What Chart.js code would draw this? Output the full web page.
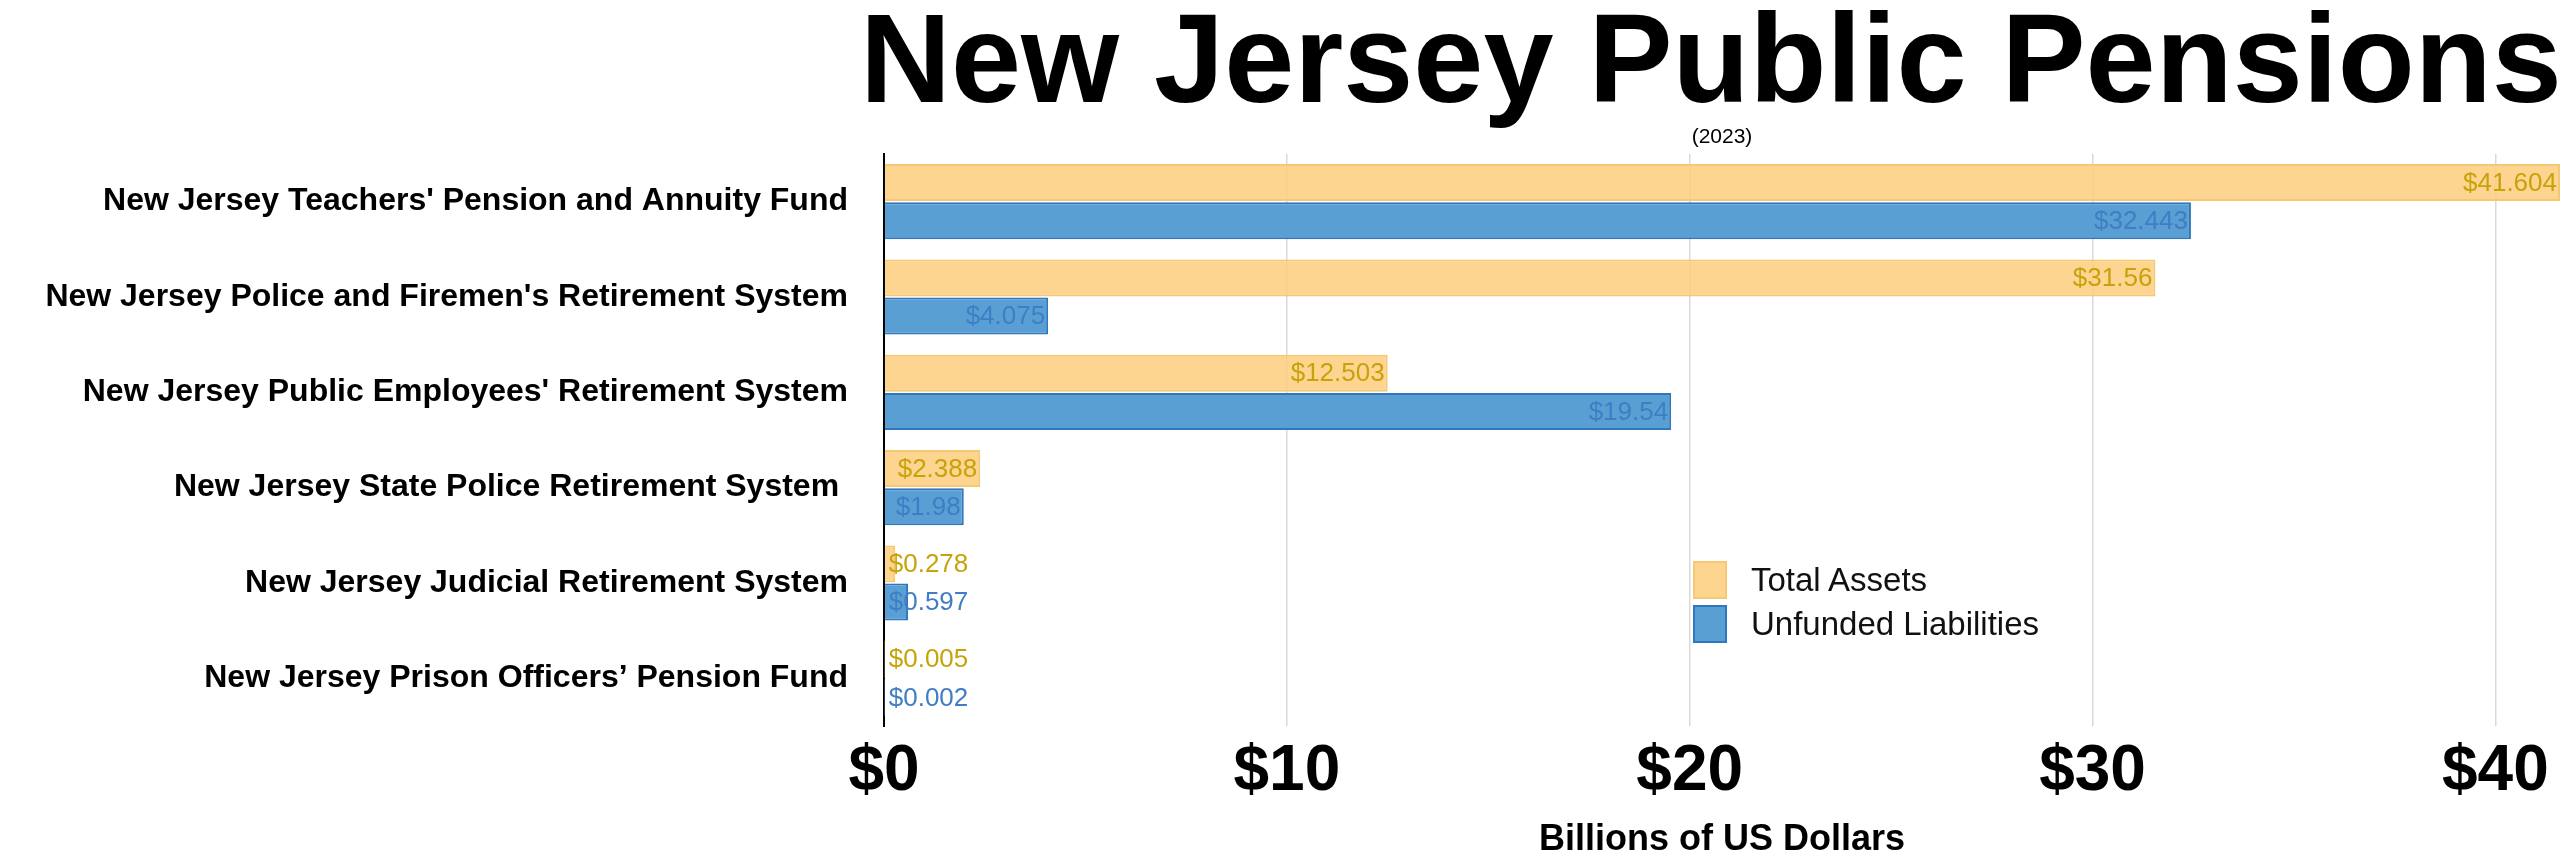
<!DOCTYPE html>
<html>
<head>
<meta charset="utf-8">
<script src="https://cdn.jsdelivr.net/npm/chart.js@4"></script>
<style>
  html, body { margin: 0; padding: 0; background: #fff; }
  #wrap { position: relative; width: 2560px; height: 850px; font-family: "Liberation Sans", Arial, sans-serif; }
  #title { position: absolute; left: 860px; width: 1700px; top: -14px; text-align: center; font-size: 126px; font-weight: bold; color: #000; white-space: nowrap; }
  #sub { position: absolute; left: 884px; width: 1676px; top: 124px; text-align: center; font-size: 21px; color: #000; }
  #legend { position: absolute; left: 1693px; top: 558px; font-size: 33px; color: #111; }
  #legend div { display: flex; align-items: center; height: 44px; }
  #legend span.box { display: inline-block; width: 34px; height: 38px; margin-right: 24px; box-sizing: border-box; }
</style>
</head>
<body>
<div id="wrap">
  <canvas id="chart" width="2560" height="850"></canvas>
  <div id="title">New Jersey Public Pensions</div>
  <div id="sub">(2023)</div>
  <div id="legend">
    <div><span class="box" style="background:#fdd58e;border:2px solid #f7c873"></span>Total Assets</div>
    <div><span class="box" style="background:#5a9fd4;border:2px solid #2f78bd"></span>Unfunded Liabilities</div>
  </div>
</div>
<script>
// Pension funds, billions of US dollars (2023)
const funds = [
  "New Jersey Teachers' Pension and Annuity Fund",
  "New Jersey Police and Firemen's Retirement System",
  "New Jersey Public Employees' Retirement System",
  "New Jersey State Police Retirement System ",
  "New Jersey Judicial Retirement System",
  "New Jersey Prison Officers’ Pension Fund"
];
const totalAssets = [41.604, 31.56, 12.503, 2.388, 0.278, 0.005];
const unfundedLiabilities = [32.443, 4.075, 19.54, 1.98, 0.597, 0.002];
const xTicks = [0, 10, 20, 30, 40];

const labelColors = ['#c7a30a', '#3f7ec4'];

// value labels at the end of each bar
const valueLabels = {
  id: 'valueLabels',
  afterDatasetsDraw(chart) {
    const ctx = chart.ctx;
    ctx.save();
    ctx.font = '26px "Liberation Sans", Arial, sans-serif';
    ctx.textBaseline = 'middle';
    chart.data.datasets.forEach((ds, i) => {
      chart.getDatasetMeta(i).data.forEach((bar, j) => {
        const txt = '$' + ds.data[j];
        const w = ctx.measureText(txt).width;
        ctx.fillStyle = labelColors[i];
        if (bar.x - bar.base > w + 8) {
          ctx.textAlign = 'right';
          ctx.fillText(txt, Math.min(bar.x, chart.chartArea.right) - 3, bar.y + 1);
        } else {
          ctx.textAlign = 'left';
          ctx.fillText(txt, bar.base + 4, bar.y + 1);
        }
      });
    });
    ctx.restore();
  }
};

new Chart(document.getElementById('chart'), {
  type: 'bar',
  data: {
    labels: funds,
    datasets: [
      { label: 'Total Assets', data: totalAssets, backgroundColor: 'rgba(253,205,125,0.85)', borderColor: '#f7c873', borderWidth: 2 },
      { label: 'Unfunded Liabilities', data: unfundedLiabilities, backgroundColor: '#5a9fd4', borderColor: '#2f78bd', borderWidth: 2 }
    ]
  },
  options: {
    indexAxis: 'y',
    responsive: false,
    animation: false,
    layout: { padding: { top: 154, right: 0, left: 0, bottom: -12 } },
    categoryPercentage: 0.8,
    barPercentage: 0.97,
    plugins: {
      legend: { display: false },
      tooltip: { enabled: false }
    },
    scales: {
      x: {
        min: 0,
        max: 41.604,
        afterBuildTicks: (scale) => { scale.ticks = xTicks.map(v => ({ value: v })); },
        grid: { color: '#d9d9d9', lineWidth: 1.5, drawTicks: false },
        border: { display: false },
        ticks: {
          color: '#000',
          padding: 8,
          font: { family: '"Liberation Sans", Arial, sans-serif', size: 64, weight: 'bold' },
          callback: (v) => '$' + v
        },
        title: {
          display: true,
          text: 'Billions of US Dollars',
          color: '#000',
          padding: { top: 0, bottom: 0 },
          font: { family: '"Liberation Sans", Arial, sans-serif', size: 36, weight: 'bold' }
        }
      },
      y: {
        afterFit: (scale) => { scale.width = 884; },
        grid: { display: false, drawTicks: false },
        border: { display: true, color: '#000', width: 2 },
        ticks: {
          color: '#000',
          padding: 36,
          font: { family: '"Liberation Sans", Arial, sans-serif', size: 32, weight: 'bold' }
        }
      }
    }
  },
  plugins: [valueLabels]
});
</script>
</body>
</html>
